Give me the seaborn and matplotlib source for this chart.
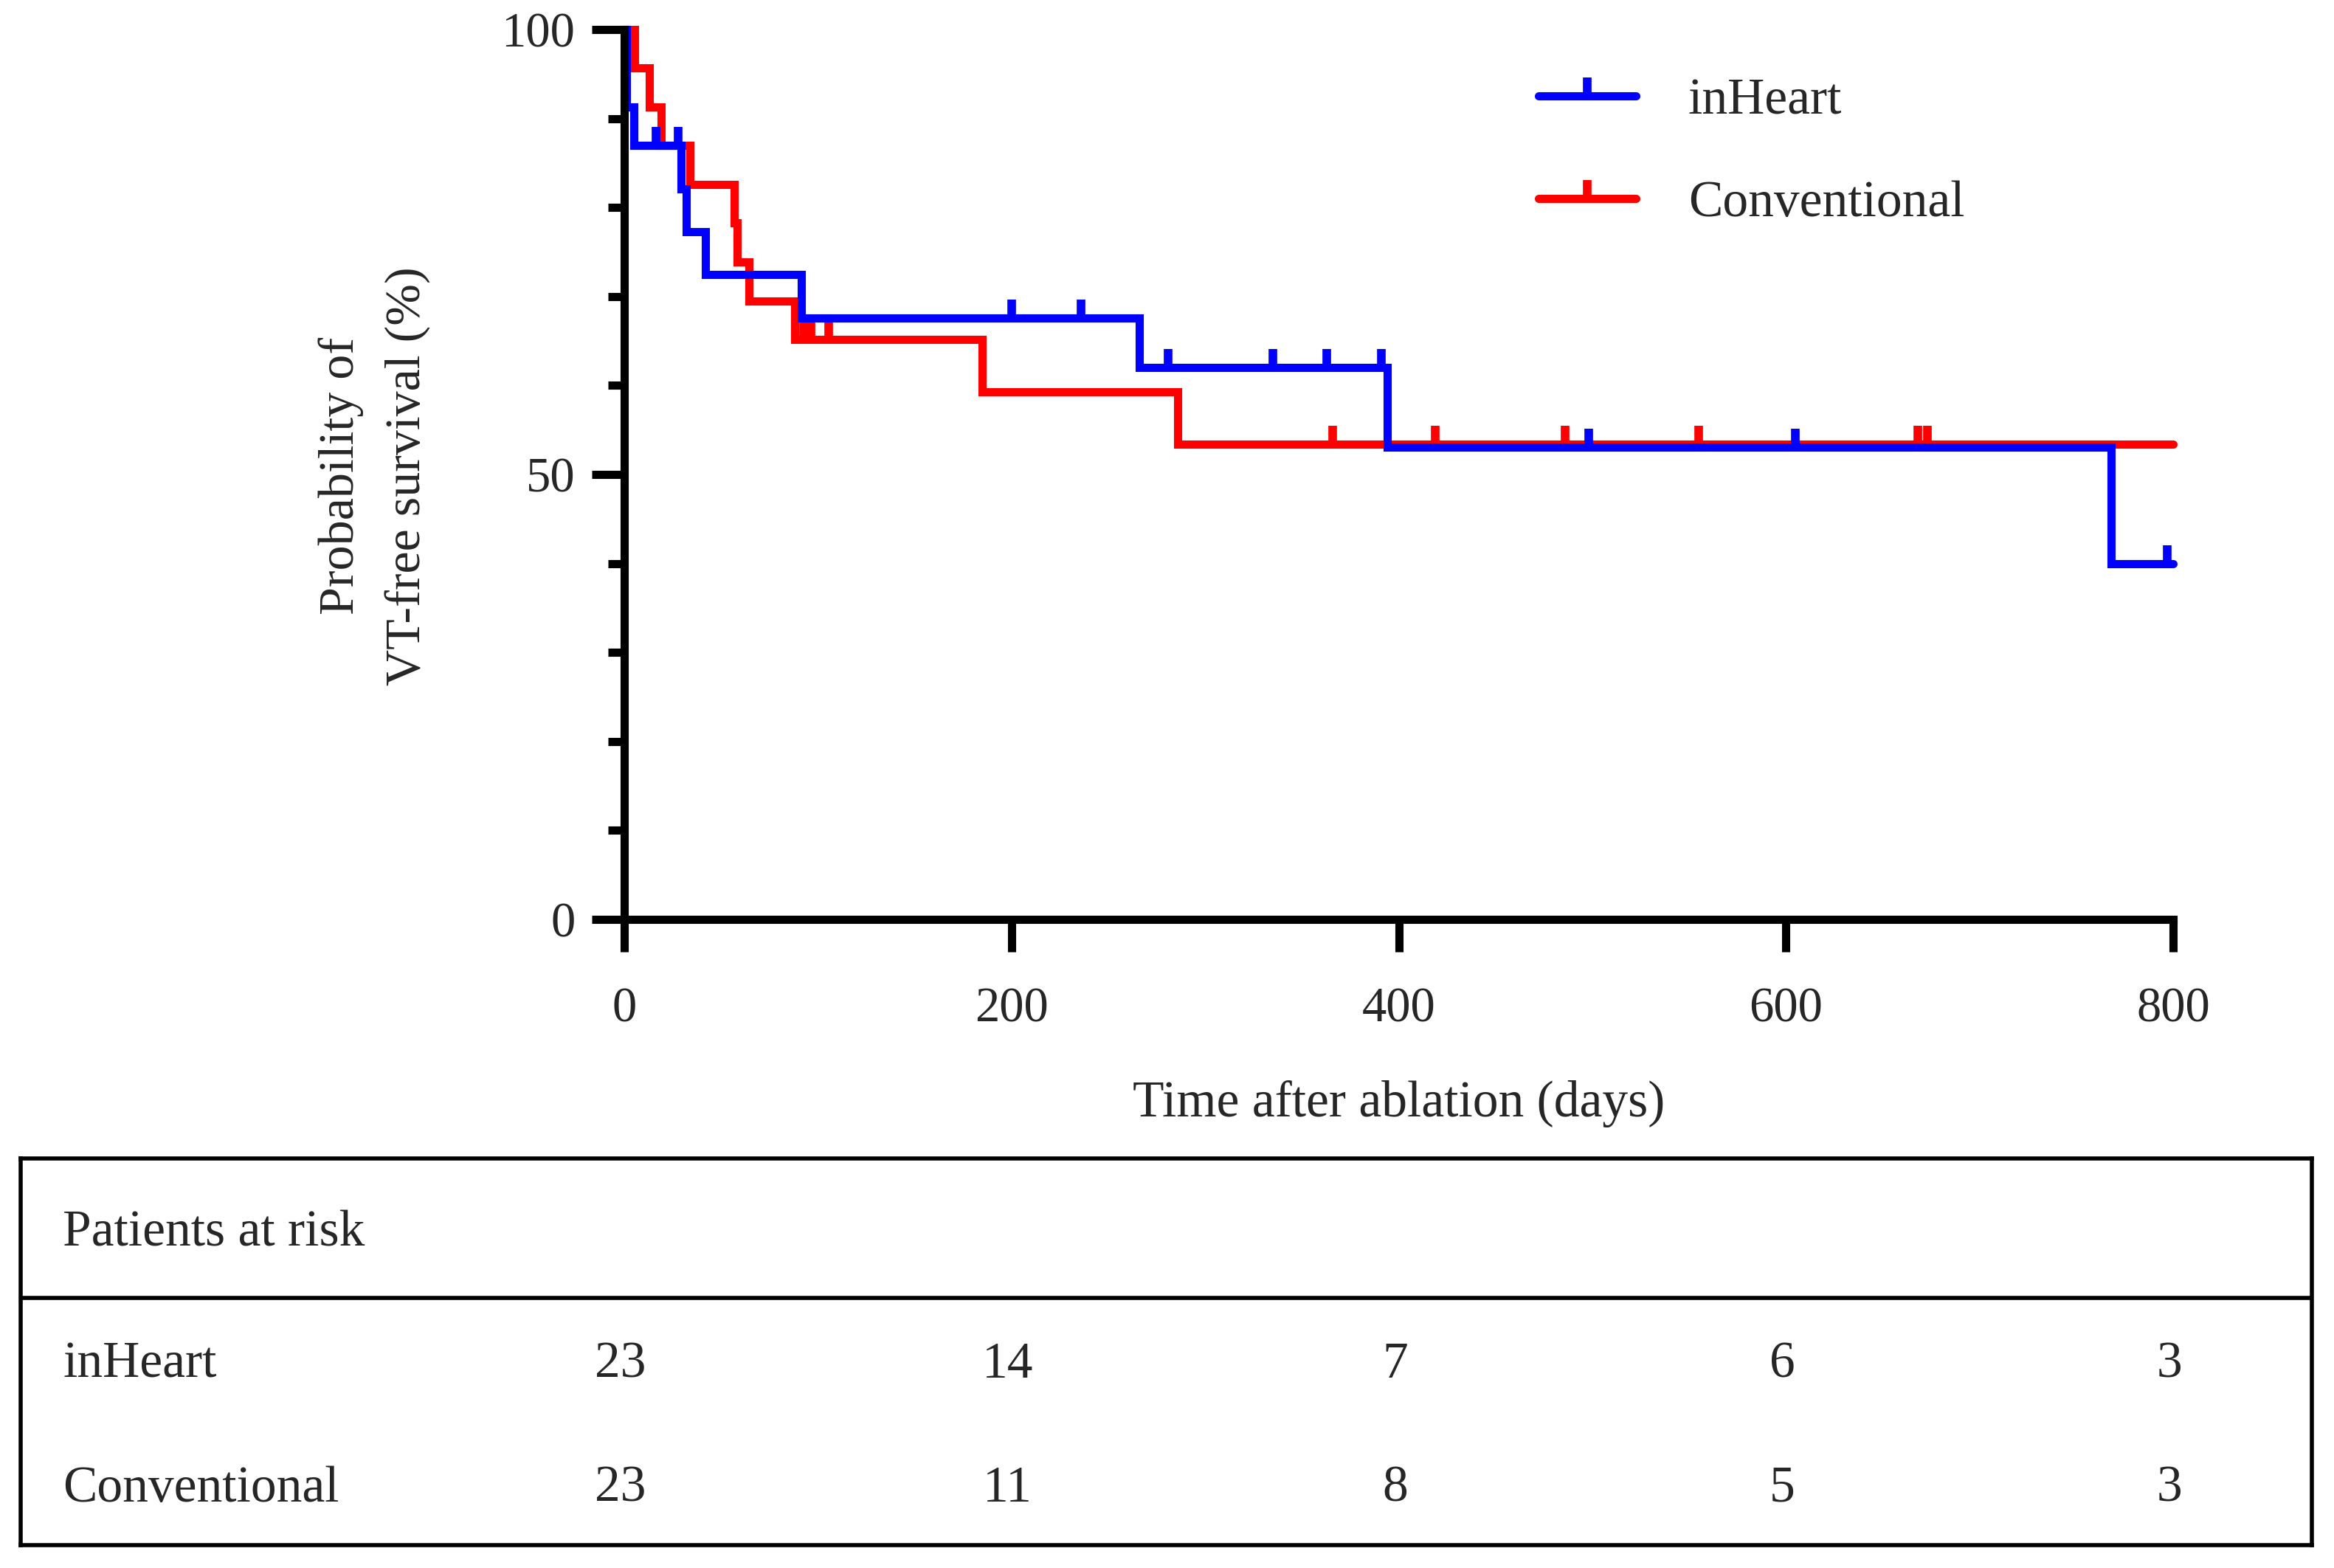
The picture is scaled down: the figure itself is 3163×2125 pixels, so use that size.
import numpy as np
import matplotlib
matplotlib.use('Agg')
import matplotlib.pyplot as plt
import matplotlib.transforms as mtransforms
from matplotlib.path import Path
from matplotlib.lines import Line2D
import seaborn as sns

# step curves (days, % VT-free)
inheart_t = [0, 1, 5, 29.5, 32, 42, 91.5, 266, 394, 768, 800]
inheart_s = [100, 91.3, 87.0, 82.1, 77.3, 72.5, 67.6, 62.0, 53.1, 40.0, 40.0]
inheart_cens = [16.5, 28, 200, 236, 281, 335, 363, 391, 498, 605, 797]

conv_t = [0, 5.3, 13, 19, 34, 56.8, 58.5, 64.6, 88, 185, 286, 800]
conv_s = [100, 95.7, 91.3, 87.0, 82.6, 78.3, 73.9, 69.5, 65.2, 59.3, 53.4, 53.4]
conv_cens = [92.5, 94.5, 96.5, 105.5, 366, 419, 486, 555, 668, 673]

risk_times = [0, 200, 400, 600, 800]
risk_inheart = [23, 14, 7, 6, 3]
risk_conv = [23, 11, 8, 5, 3]

sns.set_theme(style='white')
plt.rcParams['font.family'] = ['Liberation Serif', 'DejaVu Serif']
plt.rcParams['axes.linewidth'] = 4

W, H = 3163, 2125
fs = 25
fig = plt.figure(figsize=(W / 200, H / 200), dpi=200)
ax = fig.add_axes([846 / W, 1 - 1246 / H, (2945 - 846) / W, (1246 - 40) / H])

tick = Path([(0, 0), (0, 1)], [Path.MOVETO, Path.LINETO])
lw = 4


def at(ts, ss, c):
    i = np.searchsorted(ts, c, side='right') - 1
    return ss[i]


series = [('Conventional', conv_t, conv_s, conv_cens, '#ff0000'),
          ('inHeart', inheart_t, inheart_s, inheart_cens, '#0000ff')]
for name, ts, ss, cens, col in series:
    sns.lineplot(x=ts, y=ss, ax=ax, color=col, lw=lw, drawstyle='steps-post',
                 estimator=None, sort=False, clip_on=False,
                 solid_capstyle='round', solid_joinstyle='miter')
    cy = [at(ts, ss, c) for c in cens]
    ax.plot(cens, cy, ls='none', marker=tick, markersize=18, mew=4.2,
            color=col, clip_on=False)

ax.set_xlim(0, 800)
ax.set_ylim(0, 100)
sns.despine(ax=ax)
for s in ['left', 'bottom']:
    ax.spines[s].set_color('black')
ax.set_xticks([0, 200, 400, 600, 800])
ax.set_yticks([0, 50, 100])
ax.set_yticks(range(10, 100, 10), minor=True)
ax.tick_params(axis='both', which='major', length=16, width=4, color='black',
               labelsize=24, direction='out', left=True, bottom=True)
ax.tick_params(axis='y', which='minor', length=8, width=4, color='black', left=True)
ax.tick_params(axis='x', which='major', pad=17)
ax.tick_params(axis='y', which='major', pad=8)
ax.set_xlabel('Time after ablation (days)', fontsize=fs, labelpad=23.5)
fig.text(508 / W, 1 - 645 / H, 'Probability of\nVT-free survival (%)', rotation=90,
         ha='center', va='center', fontsize=24.5, linespacing=1.6,
         multialignment='center')

handles = [Line2D([], [], color='#0000ff', lw=lw, marker=tick, markersize=18, mew=4.2,
                  solid_capstyle='round'),
           Line2D([], [], color='#ff0000', lw=lw, marker=tick, markersize=18, mew=4.2,
                  solid_capstyle='round')]
ax.legend(handles, ['inHeart', 'Conventional'], loc='upper left',
          bbox_to_anchor=(2085 / W, 1 - 106 / H), bbox_transform=fig.transFigure,
          frameon=False, fontsize=fs, handlelength=1.9, handletextpad=1.02,
          labelspacing=1.08, borderaxespad=0, borderpad=0)

# patients at risk table
tab = fig.add_axes([28 / W, 1 - 2094 / H, (3133 - 28) / W, (2094 - 1570) / H])
tab.set_xticks([])
tab.set_yticks([])
for s in tab.spines.values():
    s.set_visible(True)
    s.set_color('black')
    s.set_linewidth(2)
tab.axhline(0.639, color='black', lw=2)
tab.text(0.0184, 0.805, 'Patients at risk', fontsize=fs, va='center', transform=tab.transAxes)
tab.text(0.0184, 0.466, 'inHeart', fontsize=fs, va='center', transform=tab.transAxes)
tab.text(0.0184, 0.145, 'Conventional', fontsize=fs, va='center', transform=tab.transAxes)
blend = mtransforms.blended_transform_factory(ax.transData, tab.transAxes)
for t, a, b in zip(risk_times, risk_inheart, risk_conv):
    tab.text(t - 2, 0.466, str(a), fontsize=fs, ha='center', va='center', transform=blend)
    tab.text(t - 2, 0.145, str(b), fontsize=fs, ha='center', va='center', transform=blend)

fig.savefig('out.png', dpi=200, facecolor='white')
